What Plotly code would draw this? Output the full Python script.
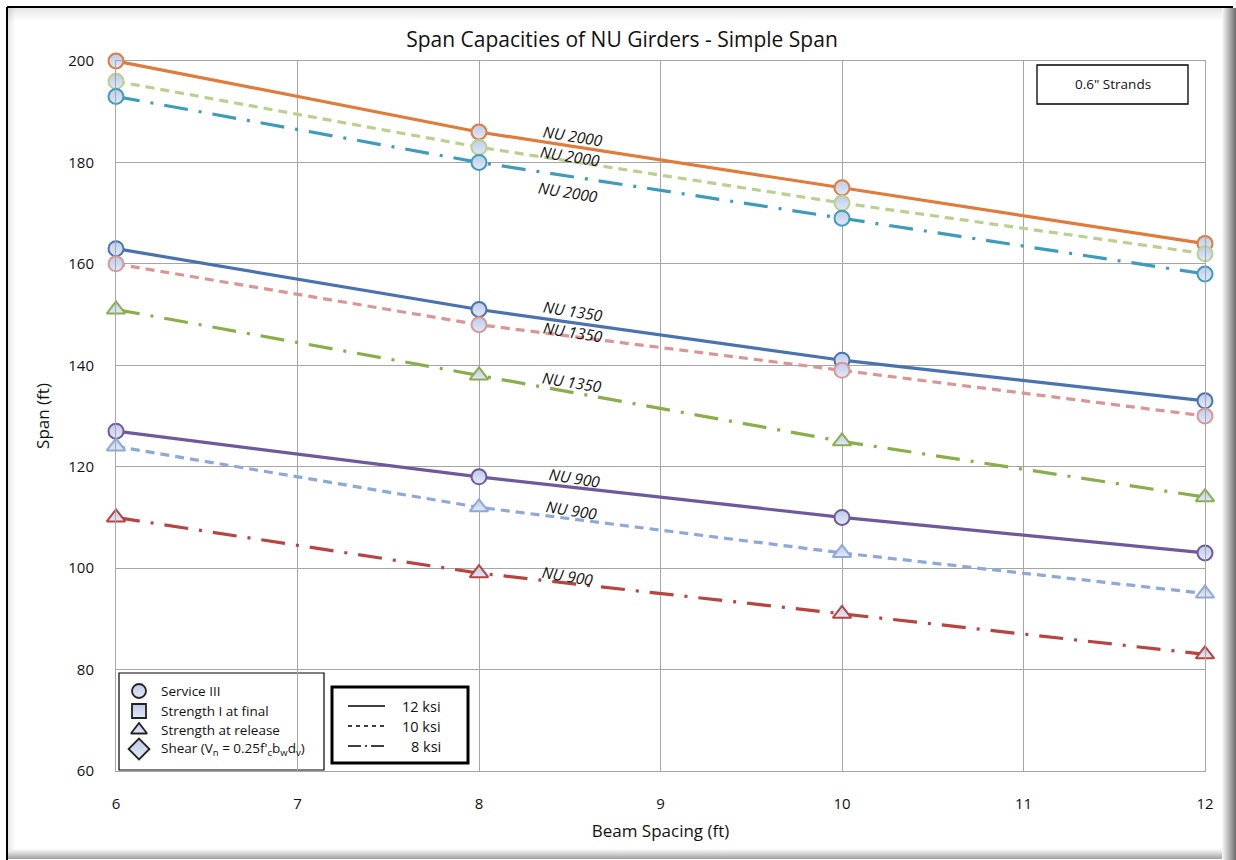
import plotly.graph_objects as go

# Beam spacing (ft)
spacing = [6, 8, 10, 12]

# Span capacities (ft) per girder / concrete strength
nu2000_12 = [200, 186, 175, 164]
nu2000_10 = [196, 183, 172, 162]
nu2000_8 = [193, 180, 169, 158]
nu1350_12 = [163, 151, 141, 133]
nu1350_10 = [160, 148, 139, 130]
nu1350_8 = [151, 138, 125, 114]
nu900_12 = [127, 118, 110, 103]
nu900_10 = [124, 112, 103, 95]
nu900_8 = [110, 99, 91, 83]

W, H = 1236, 860
L, R, T, B = 116, 31, 61, 89
PW, PH = W - L - R, H - T - B

FONT = "Open Sans"
FILL = "#BCCBEA"
DASH10 = "9px,6px"
DASHDOT8 = "24px,11px,3px,11px"


def px(xp):
    return (xp - L) / PW


def py(yp):
    return (H - B - yp) / PH


series = [
    (nu2000_12, "#E07B39", "solid", "circle"),
    (nu2000_10, "#B9D18F", DASH10, "circle"),
    (nu2000_8, "#3D9CBA", DASHDOT8, "circle"),
    (nu1350_12, "#4A72B0", "solid", "circle"),
    (nu1350_10, "#D99694", DASH10, "circle"),
    (nu1350_8, "#8AAE4A", DASHDOT8, "triangle-up"),
    (nu900_12, "#70589C", "solid", "circle"),
    (nu900_10, "#8EA9D8", DASH10, "triangle-up"),
    (nu900_8, "#B8433F", DASHDOT8, "triangle-up"),
]

fig = go.Figure()
for vals, col, dash, sym in series:
    fig.add_trace(go.Scatter(
        x=spacing, y=vals, mode="lines+markers",
        line=dict(color=col, width=3.2, dash=dash),
        marker=dict(symbol=sym, size=15 if sym == "circle" else 16, color=FILL,
                    gradient=dict(type="vertical", color="#E2E9F7"),
                    line=dict(color=col, width=2)),
        showlegend=False, hoverinfo="skip",
        cliponaxis=False,
    ))

# Girder labels placed along the lines
labels = [
    ("NU 2000", 8.52, 185.3), ("NU 2000", 8.50, 181.2), ("NU 2000", 8.49, 174.2),
    ("NU 1350", 8.52, 150.7), ("NU 1350", 8.52, 146.6), ("NU 1350", 8.51, 136.7),
    ("NU 900", 8.53, 117.8), ("NU 900", 8.51, 111.5), ("NU 900", 8.49, 98.5),
]
annotations = []
for txt, lx, ly in labels:
    annotations.append(dict(x=lx, y=ly, xref="x", yref="y", text="<i>" + txt + "</i>",
                            showarrow=False, textangle=9,
                            xanchor="center", yanchor="middle",
                            font=dict(family=FONT, size=15.5, color="#111111")))

shapes = []
# Marker-type key box
shapes.append(dict(type="rect", xref="paper", yref="paper",
                   x0=px(119), x1=px(324), y0=py(770), y1=py(673),
                   line=dict(color="#000000", width=1.2), fillcolor="white", layer="between"))
# Concrete strength key box
shapes.append(dict(type="rect", xref="paper", yref="paper",
                   x0=px(332), x1=px(468), y0=py(763), y1=py(687),
                   line=dict(color="#000000", width=3), fillcolor="white", layer="between"))
# Strand size box
shapes.append(dict(type="rect", xref="paper", yref="paper",
                   x0=px(1037), x1=px(1188), y0=py(104), y1=py(65),
                   line=dict(color="#000000", width=1.3), fillcolor="white", layer="between"))

key_marks = [
    ("circle", "Service III", 691),
    ("square", "Strength I at final", 711),
    ("triangle-up", "Strength at release", 730),
    ("diamond", "Shear (V<sub>n</sub> = 0.25f'<sub>c</sub>b<sub>w</sub>d<sub>v</sub>)", 749),
]
for sym, txt, yp in key_marks:
    fig.add_trace(go.Scatter(
        x=[px(139)], y=[py(yp)], xaxis="x2", yaxis="y2", mode="markers",
        marker=dict(symbol=sym, size=14 if sym != "diamond" else 16, color=FILL,
                    gradient=dict(type="vertical", color="#E2E9F7"),
                    line=dict(color="#222222", width=1.8)),
        showlegend=False, hoverinfo="skip", cliponaxis=False,
    ))
    annotations.append(dict(x=px(159), y=py(yp), xref="paper", yref="paper", text=txt,
                            xanchor="left", yanchor="middle", showarrow=False,
                            font=dict(family=FONT, size=13.5, color="#111111")))

key_lines = [("solid", "12 ksi", 706), ("dash", "10 ksi", 726), ("dashdot", "8 ksi", 746)]
for dash, txt, yp in key_lines:
    d = {"solid": "solid", "dash": "4px,4px", "dashdot": "13px,4px,2px,4px"}[dash]
    shapes.append(dict(type="line", xref="paper", yref="paper",
                       x0=px(348), x1=px(385), y0=py(yp), y1=py(yp),
                       line=dict(color="#000000", width=1.3, dash=d), layer="above"))
    annotations.append(dict(x=px(443), y=py(yp), xref="paper", yref="paper", text=txt,
                            xanchor="right", yanchor="middle", showarrow=False,
                            font=dict(family=FONT, size=14.5, color="#111111")))

annotations.append(dict(x=px(1112.5), y=py(84), xref="paper", yref="paper",
                        text="0.6\" Strands", showarrow=False,
                        xanchor="center", yanchor="middle",
                        font=dict(family=FONT, size=13.5, color="#111111")))

# Page frame with a soft shadow
shapes.append(dict(type="line", xref="paper", yref="paper", x0=px(7), x1=px(1233),
                   y0=py(7), y1=py(7), line=dict(color="#000000", width=2), layer="above"))
shapes.append(dict(type="line", xref="paper", yref="paper", x0=px(7), x1=px(7),
                   y0=py(7), y1=py(862), line=dict(color="#000000", width=2), layer="above"))
for i in range(10):
    a = 0.12 * (1 - i / 10)
    shapes.append(dict(type="rect", xref="paper", yref="paper", x0=px(8), x1=px(1222),
                       y0=py(8 + i * 1.3), y1=py(8 + (i + 1) * 1.3),
                       line=dict(width=0), fillcolor=f"rgba(60,60,60,{a:.3f})", layer="above"))
    shapes.append(dict(type="rect", xref="paper", yref="paper",
                       x0=px(8 + i * 0.7), x1=px(8 + (i + 1) * 0.7), y0=py(8), y1=py(850),
                       line=dict(width=0), fillcolor=f"rgba(60,60,60,{a:.3f})", layer="above"))
for i in range(14):
    a = 0.05 + 0.055 * i
    shapes.append(dict(type="rect", xref="paper", yref="paper",
                       x0=px(1222 + i), x1=px(1223 + i), y0=py(8), y1=py(860),
                       line=dict(width=0), fillcolor=f"rgba(70,70,70,{min(a, 0.8):.3f})",
                       layer="above"))
for i in range(10):
    a = 0.03 + 0.05 * i
    shapes.append(dict(type="rect", xref="paper", yref="paper",
                       x0=px(8), x1=px(1222), y0=py(849 + i), y1=py(850 + i),
                       line=dict(width=0), fillcolor=f"rgba(70,70,70,{a:.3f})", layer="above"))

fig.update_layout(
    width=W, height=H,
    margin=dict(l=L, r=R, t=T, b=B, pad=0),
    paper_bgcolor="white", plot_bgcolor="white",
    title=dict(text="Span Capacities of NU Girders - Simple Span", x=px(622),
               xanchor="center", xref="paper", y=1 - 40 / H, yanchor="middle",
               font=dict(family=FONT, size=21, color="#111111")),
    font=dict(family=FONT, size=15, color="#111111"),
    xaxis=dict(range=[6, 12], dtick=1, showgrid=True, gridcolor="#A6A6A6", gridwidth=1,
               showline=True, linecolor="#A6A6A6", linewidth=1, mirror=True, zeroline=False,
               ticks="", ticklabelstandoff=19,
               title=dict(text="Beam Spacing (ft)", standoff=13,
                          font=dict(family=FONT, size=17))),
    yaxis=dict(range=[60, 200], dtick=20, showgrid=True, gridcolor="#A6A6A6", gridwidth=1,
               showline=True, linecolor="#A6A6A6", linewidth=1, mirror=True, zeroline=False,
               ticks="", ticklabelstandoff=18,
               title=dict(text="Span (ft)", standoff=14,
                          font=dict(family=FONT, size=17))),
    xaxis2=dict(range=[0, 1], visible=False, overlaying="x", domain=[0, 1], fixedrange=True),
    yaxis2=dict(range=[0, 1], visible=False, overlaying="y", domain=[0, 1], fixedrange=True),
    annotations=annotations,
    shapes=shapes,
)

fig.write_html("out.html")
